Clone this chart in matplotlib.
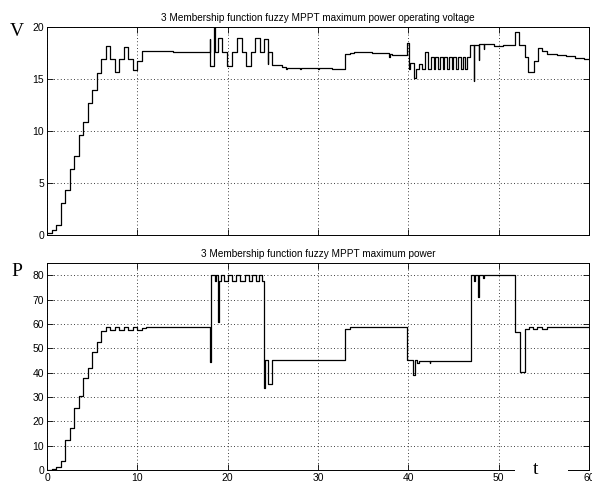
import matplotlib
matplotlib.use("Agg")
import matplotlib.pyplot as plt
from matplotlib.patches import Rectangle

# operating voltage, step values (value holds from t until next t)
v_t = [0, 0.5, 1.0, 1.5, 2.0, 2.5, 3.0, 3.5, 4.0, 4.5, 5.0, 5.5, 6.0, 6.5,
       7.0, 7.5, 8.0, 8.5, 9.0, 9.5, 10.0, 10.5, 12.0, 14.0, 16.0,
       18.0, 18.05, 18.5, 18.56, 18.96, 19.4, 19.95, 20.5, 21.05, 21.55,
       22.0, 22.55, 23.05, 23.55, 24.05, 24.45, 24.5, 24.9, 26.0, 26.5,
       26.6, 28.0, 28.1, 30.0, 30.1, 31.5, 31.6, 33.0, 33.5, 34.0, 36.0,
       37.9, 38.0, 38.15, 39.85, 40.1, 40.2, 40.6, 40.9, 41.2, 41.5,
       41.85, 42.2, 42.5, 42.8, 43.0, 43.3, 43.5, 43.8, 44.0, 44.3, 44.5,
       44.8, 45.0, 45.3, 45.5, 45.8, 46.0, 46.3, 46.5, 46.85, 47.25, 47.3,
       47.8, 47.85, 48.35, 48.4, 49.5, 50.5, 51.8, 52.3, 52.9, 53.3, 53.9,
       54.35, 54.8, 55.35, 56.5, 57.5, 58.5, 59.5, 60.0]
v_val = [0.2, 0.5, 1.0, 3.1, 4.3, 6.3, 7.6, 9.6, 10.9, 12.7, 13.9, 15.6, 16.9, 18.2,
         16.9, 15.7, 16.9, 18.1, 16.9, 15.9, 16.7, 17.7, 17.65, 17.6, 17.55,
         18.8, 16.2, 20.5, 17.6, 18.9, 17.6, 16.2, 17.6, 18.9, 17.6,
         16.2, 17.6, 18.9, 17.6, 18.8, 16.4, 17.6, 16.3, 16.15, 16.0,
         16.1, 16.0, 16.1, 15.95, 16.05, 15.95, 16.0, 17.4, 17.5, 17.6, 17.5,
         17.1, 17.4, 17.35, 18.5, 16.0, 16.5, 15.1, 16.0, 16.4, 16.0,
         17.6, 16.0, 17.1, 16.0, 17.1, 16.0, 17.1, 16.0, 17.1, 16.0, 17.1,
         16.0, 17.1, 16.0, 17.1, 16.0, 17.1, 16.0, 17.1, 18.3, 14.8, 18.3,
         16.8, 18.4, 17.9, 18.4, 18.2, 18.3, 19.55, 18.3, 17.1, 15.7, 16.75,
         18.0, 17.7, 17.4, 17.3, 17.2, 17.05, 16.9, 16.9]

# maximum power, step values
p_t = [0, 0.5, 1.0, 1.5, 2.0, 2.5, 3.0, 3.5, 4.0, 4.5, 5.0, 5.5, 6.0, 6.5,
       7.0, 7.5, 8.0, 8.5, 9.0, 9.5, 10.0, 10.5, 11.0,
       18.05, 18.12, 18.55, 18.7, 18.95, 19.05, 19.3, 19.6, 20.05, 20.5,
       20.95, 21.4, 21.9, 22.35, 22.7, 23.15, 23.45, 23.75, 24.0, 24.1,
       24.45, 24.9, 25.4, 33.0, 33.5, 39.85, 40.5, 40.7, 41.0, 41.2,
       42.35, 42.45, 46.9, 47.3, 47.35, 47.75, 47.85, 48.3, 48.35,
       51.85, 52.4, 52.95, 53.4, 53.85, 54.2, 54.8, 55.3, 60.0]
p_val = [0, 0.3, 1.1, 3.8, 12.2, 17.1, 25.3, 30.4, 37.6, 42.0, 48.3, 52.4, 57.0, 58.8,
         57.4, 58.8, 57.4, 58.8, 57.4, 58.8, 57.6, 58.5, 58.8,
         44.4, 80.0, 77.7, 80.0, 60.8, 77.7, 80.0, 77.7, 80.0, 77.7,
         80.0, 77.7, 80.0, 77.7, 80.0, 77.7, 80.0, 77.5, 33.5, 45.1,
         35.3, 45.1, 45.3, 58.1, 58.8, 45.3, 39.0, 45.1, 43.8, 44.7,
         44.0, 44.6, 80.0, 77.5, 80.0, 71.1, 80.0, 79.0, 80.2,
         56.7, 40.1, 57.8, 58.8, 57.8, 58.8, 58.0, 58.9, 58.9]

v_ticks = [0, 5, 10, 15, 20]
p_ticks = [0, 10, 20, 30, 40, 50, 60, 70, 80]
t_ticks = [0, 10, 20, 30, 40, 50, 60]

title_v = "3 Membership function fuzzy MPPT maximum power operating voltage"
title_p = "3 Membership function fuzzy MPPT maximum power"

plt.rcParams["font.family"] = ["Liberation Sans", "DejaVu Sans"]

fig = plt.figure(figsize=(5.92, 4.84), dpi=100)
ax1 = fig.add_axes([0.0794, 0.5145, 0.9155, 0.4298])
ax2 = fig.add_axes([0.0794, 0.0289, 0.9155, 0.4277])


def style_axes(ax, yticks, ylim):
    ax.set_xlim(0, 60)
    ax.set_ylim(*ylim)
    ax.set_xticks(t_ticks)
    ax.set_yticks(yticks)
    ax.grid(True, color="black", linestyle=(0, (1, 3)), linewidth=0.6)
    ax.tick_params(direction="in", length=4, width=0.6, top=True, right=True,
                   labelsize=7.5, pad=2)
    for s in ax.spines.values():
        s.set_linewidth(0.7)


ax1.step(v_t, v_val, where="post", color="black", linewidth=0.9)
style_axes(ax1, v_ticks, (0, 20))
ax1.tick_params(labelbottom=False)
ax1.set_title(title_v, fontsize=7.2, pad=4)

ax2.step(p_t, p_val, where="post", color="black", linewidth=0.9)
style_axes(ax2, p_ticks, (0, 85))
ax2.set_title(title_p, fontsize=7.2, pad=4)

fig.text(10 / 592, 1 - 36 / 484, "V", family="Liberation Serif", fontsize=14)
fig.text(11 / 592, 1 - 276 / 484, "P", family="Liberation Serif", fontsize=14)

# white box with the "t" label sitting over the bottom axis line
fig.patches.append(Rectangle((515 / 592, 1 - 476 / 484), 53 / 592, 16 / 484,
                             transform=fig.transFigure, facecolor="white",
                             edgecolor="none", zorder=5))
fig.text(533 / 592, 1 - 474 / 484, "t", family="Liberation Serif", fontsize=14,
         zorder=6)

fig.savefig("out.png", dpi=100)
